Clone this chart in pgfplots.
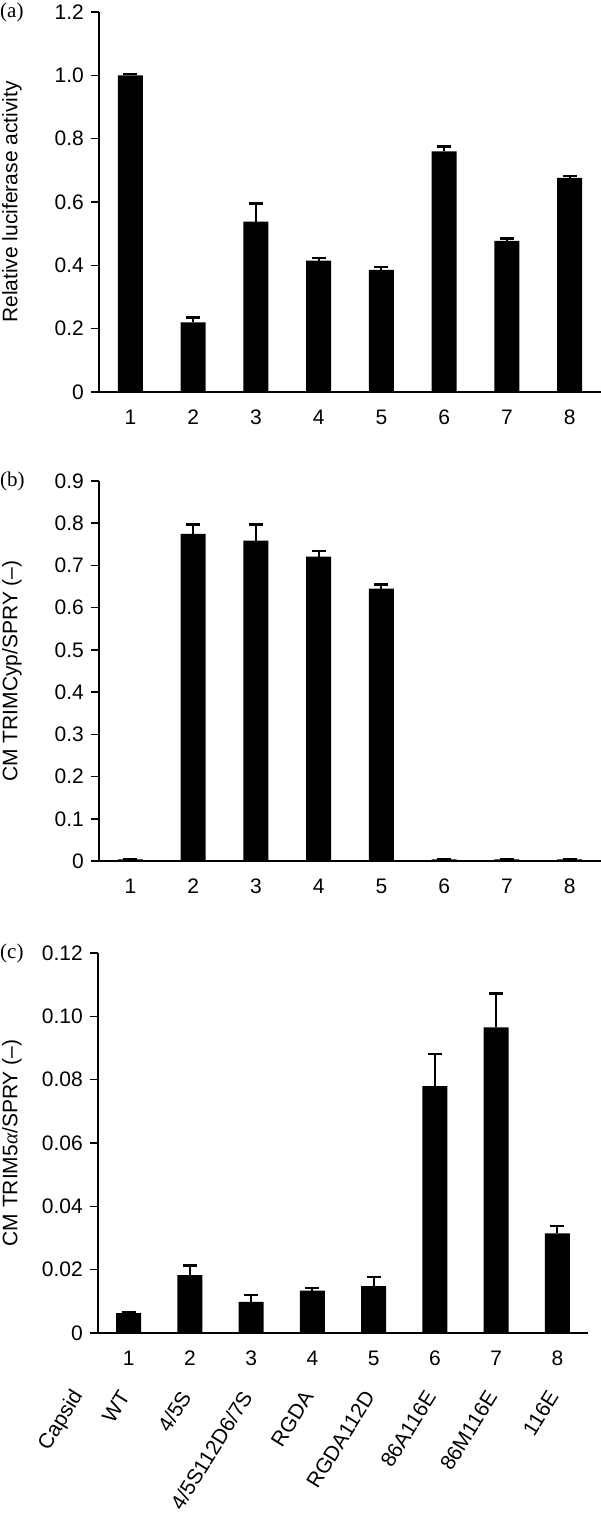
\documentclass[border=0pt]{standalone}
\usepackage{fontspec}
\setmainfont{Liberation Sans}
\newfontfamily\seriff{Liberation Serif}
\usepackage{pgfplots}
\pgfplotsset{compat=1.18}

\pgfplotstableread{
x y e
1 1.000 0.004
2 0.220 0.015
3 0.538 0.057
4 0.415 0.008
5 0.386 0.010
6 0.760 0.015
7 0.477 0.008
8 0.676 0.007
}\dataA
\pgfplotstableread{
x y e
1 0.004 0
2 0.775 0.022
3 0.759 0.038
4 0.721 0.013
5 0.645 0.010
6 0.004 0
7 0.004 0
8 0.004 0
}\dataB
\pgfplotstableread{
x y e
1 0.0063 0.0003
2 0.0183 0.0030
3 0.0098 0.0022
4 0.0134 0.0008
5 0.0148 0.0030
6 0.0780 0.0100
7 0.0965 0.0107
8 0.0315 0.0023
}\dataC

\tikzset{cat/.style={rotate=58, anchor=east, inner sep=0pt, font=\fontsize{21}{25}\selectfont}}

\pgfplotsset{
  panel/.style={
    scale only axis, height=380pt,
    xmin=0.5, xmax=8.5, ymin=0,
    axis lines*=left,
    axis line style={line width=1.5pt, black},
    ybar, bar width=25pt,
    xtick={1,2,3,4,5,6,7,8},
    xticklabels={1,2,3,4,5,6,7,8},
    x tick style={draw=none},
    xticklabel style={yshift=-3pt},
    tick align=outside, major tick length=8pt,
    y tick style={line width=1.5pt, black},
    error bars/y dir=plus, error bars/y explicit,
    error bars/error bar style={line width=2pt, black},
    error bars/error mark options={rotate=90, mark size=7pt, line width=2.2pt, black},
    clip=false,
  },
}

\begin{document}
\fontsize{21}{25}\selectfont
\begin{tikzpicture}
\useasboundingbox (0pt,0pt) rectangle (601pt,-1519pt);

% (a)
\begin{axis}[panel, width=502pt, at={(99pt,-392pt)}, anchor=south west,
  ymax=1.2,
  ytick={0,0.2,0.4,0.6,0.8,1.0,1.2},
  yticklabels={0,0.2,0.4,0.6,0.8,1.0,1.2},
  ylabel={Relative luciferase activity},
  ylabel style={at={(axis description cs:-0.1733,0.5)}, anchor=center}]
\addplot[fill=black, draw=none] table[x=x, y=y, y error=e] {\dataA};
\end{axis}
\node[anchor=west, font=\seriff, inner sep=0pt] at (0pt,-12pt) {(a)};

% (b)
\begin{axis}[panel, width=502pt, at={(99pt,-861pt)}, anchor=south west,
  ymax=0.9,
  ytick={0,0.1,0.2,0.3,0.4,0.5,0.6,0.7,0.8,0.9},
  yticklabels={0,0.1,0.2,0.3,0.4,0.5,0.6,0.7,0.8,0.9},
  ylabel={CM TRIMCyp/SPRY (–)},
  ylabel style={at={(axis description cs:-0.1733,0.5)}, anchor=center}]
\addplot[fill=black, draw=none] table[x=x, y=y, y error=e] {\dataB};
\end{axis}
\node[anchor=west, font=\seriff, inner sep=0pt] at (0pt,-481pt) {(b)};

% (c)
\begin{axis}[panel, width=490pt, at={(98pt,-1333pt)}, anchor=south west,
  ymax=0.12,
  ytick={0,0.02,0.04,0.06,0.08,0.1,0.12},
  yticklabels={0,0.02,0.04,0.06,0.08,0.10,0.12},
  ylabel={CM TRIM5{\seriff\itshape α}/SPRY (–)},
  ylabel style={at={(axis description cs:-0.1755,0.5)}, anchor=center}]
\addplot[fill=black, draw=none] table[x=x, y=y, y error=e] {\dataC};
\node[cat] at ([xshift=-4pt,yshift=-60pt]axis cs:0.25,0) {Capsid};
\node[cat] at ([xshift=-4pt,yshift=-60pt]axis cs:1,0) {WT};
\node[cat] at ([xshift=-4pt,yshift=-60pt]axis cs:2,0) {4/5S};
\node[cat] at ([xshift=-4pt,yshift=-60pt]axis cs:3,0) {4/5S112D6/7S};
\node[cat] at ([xshift=-4pt,yshift=-60pt]axis cs:4,0) {RGDA};
\node[cat] at ([xshift=-4pt,yshift=-60pt]axis cs:5,0) {RGDA112D};
\node[cat] at ([xshift=-4pt,yshift=-60pt]axis cs:6,0) {86A116E};
\node[cat] at ([xshift=-4pt,yshift=-60pt]axis cs:7,0) {86M116E};
\node[cat] at ([xshift=-4pt,yshift=-60pt]axis cs:8,0) {116E};
\end{axis}
\node[anchor=west, font=\seriff, inner sep=0pt] at (0pt,-953pt) {(c)};
\end{tikzpicture}
\end{document}
